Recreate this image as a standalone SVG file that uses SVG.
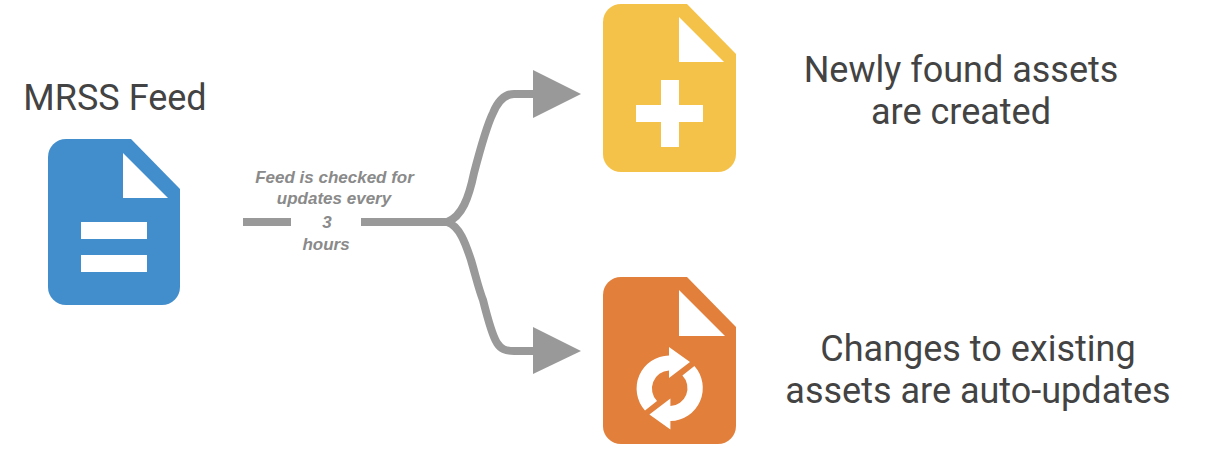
<svg xmlns="http://www.w3.org/2000/svg" width="1224" height="454" viewBox="0 0 1224 454">
<style>
.t{font-family:Roboto,"Liberation Sans",sans-serif;font-size:36px;fill:#434343;text-anchor:middle}
.s{font-family:"Liberation Sans",Arial,sans-serif;font-size:17px;font-weight:bold;font-style:italic;fill:#8a8a8a;text-anchor:middle}
.w{fill:#fff}
.c{fill:none;stroke:#999;stroke-width:8}
.h{fill:#999}
</style>
<rect width="1224" height="454" fill="#fff"/>
<g id="connectors">
<path class="c" d="M243 222H291"/>
<path class="c" d="M361 222H447"/>
<path class="c" d="M447 222C462 217 469 197 474 173C480 150 486 127 493 113C498 101 504 94 514 94H536"/>
<path class="c" d="M447 222C460 226 466 245 471 260C476 277 479 290 483 300C488 320 492 335 497 343C501 349 505 351 514 351H536"/>
<polygon class="h" points="533,70 581,94 533,118"/>
<polygon class="h" points="533,327 581,351 533,374"/>
</g>
<g id="mrss-feed">
<path fill="#428dcb" d="M66 139H131L180 189V287A18 18 0 0 1 162 305H66A18 18 0 0 1 48 287V157A18 18 0 0 1 66 139Z"/>
<polygon class="w" points="123,153 123,198 168,198"/>
<rect class="w" x="81" y="222" width="66" height="17"/>
<rect class="w" x="81" y="255" width="66" height="17"/>
<text class="t" x="115" y="110">MRSS Feed</text>
</g>
<g id="label">
<text class="s" x="334.500" y="183">Feed is checked for</text>
<text class="s" x="334" y="204">updates every</text>
<text class="s" x="327" y="228">3</text>
<text class="s" x="326" y="250">hours</text>
</g>
<g id="new-assets">
<path fill="#f5c249" d="M621 4H687L736 54V154A18 18 0 0 1 718 172H621A18 18 0 0 1 603 154V22A18 18 0 0 1 621 4Z"/>
<polygon class="w" points="679,17 679,62 724,62"/>
<polygon class="w" points="661,80 679,80 679,105 703,105 703,122 679,122 679,147 661,147 661,122 636,122 636,105 661,105"/>
<text class="t" x="961" y="82">Newly found assets</text>
<text class="t" x="961" y="124">are created</text>
</g>
<g id="updated-assets">
<path fill="#e27f3b" d="M621 277H687L736 327V426A18 18 0 0 1 718 444H621A18 18 0 0 1 603 426V295A18 18 0 0 1 621 277Z"/>
<polygon class="w" points="679,290 679,336 725,336"/>
<path id="sync-a" class="w" d="M645 410.500A33 33 0 0 1 669 355.500V347L690 362L669 378V370.500A18 18 0 0 0 657 401Z"/>
<path id="sync-b" class="w" d="M694.400 366.100A33 33 0 0 1 670.400 421.100V429.600L649.400 414.600L670.400 398.600V406.100A18 18 0 0 0 682.400 375.600Z"/>
<text class="t" x="978" y="361">Changes to existing</text>
<text class="t" x="978" y="403">assets are auto-updates</text>
</g>
</svg>
